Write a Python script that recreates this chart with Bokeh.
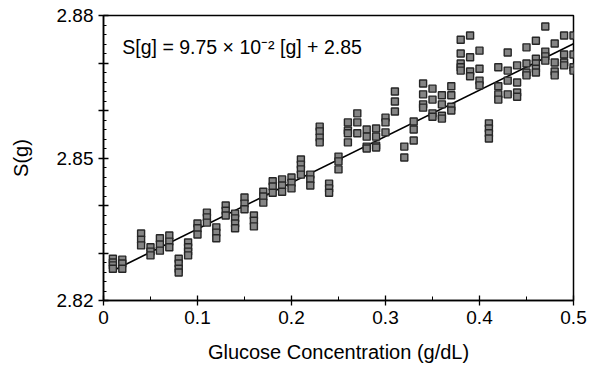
from bokeh.plotting import figure
from bokeh.models import Range1d, FixedTicker, Label, ColumnDataSource
from bokeh.embed import file_html
from bokeh.resources import INLINE

# ---- data ----
conc_levels = [0.01, 0.02, 0.04, 0.05, 0.06, 0.07, 0.08, 0.09, 0.10, 0.11,
               0.12, 0.13, 0.14, 0.15, 0.16, 0.17, 0.18, 0.19, 0.20, 0.21,
               0.22, 0.23, 0.24, 0.25, 0.26, 0.27, 0.28, 0.29, 0.30, 0.31,
               0.32, 0.33, 0.34, 0.35, 0.36, 0.37, 0.38, 0.39, 0.40, 0.41,
               0.42, 0.43, 0.44, 0.45, 0.46, 0.47, 0.48, 0.49, 0.50]

replicates = [
    [2.8288, 2.8280, 2.8274, 2.8267],
    [2.8286, 2.8278, 2.8267],
    [2.8341, 2.8328, 2.8316],
    [2.8312, 2.8303, 2.8295],
    [2.8331, 2.8318, 2.8305],
    [2.8337, 2.8324, 2.8312],
    [2.8288, 2.8278, 2.8267, 2.8259],
    [2.8322, 2.8312, 2.8303, 2.8295],
    [2.8362, 2.8352, 2.8339],
    [2.8385, 2.8375, 2.8364],
    [2.8354, 2.8343, 2.8331],
    [2.8400, 2.8389, 2.8379],
    [2.8383, 2.8373, 2.8362, 2.8352],
    [2.8417, 2.8404, 2.8392],
    [2.8379, 2.8368, 2.8356],
    [2.8429, 2.8419, 2.8406],
    [2.8451, 2.8440, 2.8427],
    [2.8455, 2.8442, 2.8429],
    [2.8459, 2.8448, 2.8436],
    [2.8497, 2.8486, 2.8476, 2.8465],
    [2.8465, 2.8455, 2.8442],
    [2.8566, 2.8556, 2.8543, 2.8533],
    [2.8446, 2.8436, 2.8427],
    [2.8503, 2.8493, 2.8476],
    [2.8575, 2.8558, 2.8552, 2.8533],
    [2.8594, 2.8575, 2.8552],
    [2.8560, 2.8545, 2.8524, 2.8520],
    [2.8562, 2.8545, 2.8526, 2.8522],
    [2.8585, 2.8575, 2.8554],
    [2.8640, 2.8619, 2.8598],
    [2.8524, 2.8501],
    [2.8577, 2.8560, 2.8537],
    [2.8657, 2.8634, 2.8613, 2.8606],
    [2.8646, 2.8623, 2.8594, 2.8587],
    [2.8632, 2.8613, 2.8589, 2.8583],
    [2.8651, 2.8632, 2.8608, 2.8600],
    [2.8749, 2.8720, 2.8699, 2.8691, 2.8684],
    [2.8758, 2.8712, 2.8682, 2.8672],
    [2.8726, 2.8688, 2.8663, 2.8653],
    [2.8573, 2.8562, 2.8552, 2.8541],
    [2.8691, 2.8651, 2.8634, 2.8623],
    [2.8722, 2.8684, 2.8663, 2.8634],
    [2.8695, 2.8659, 2.8638, 2.8629],
    [2.8733, 2.8699, 2.8680, 2.8674],
    [2.8747, 2.8709, 2.8699, 2.8688, 2.8680],
    [2.8777, 2.8724, 2.8714, 2.8705],
    [2.8741, 2.8701, 2.8682, 2.8674],
    [2.8758, 2.8718, 2.8701, 2.8695],
    [2.8758, 2.8718, 2.8691, 2.8684],
]

fit_slope = 0.0975
fit_intercept = 2.8253
fit_x = [0.01, 0.50]

x_ticks = [0, 0.1, 0.2, 0.3, 0.4, 0.5]
x_minor = [0.05, 0.15, 0.25, 0.35, 0.45]
y_ticks = [2.82, 2.83, 2.84, 2.85, 2.86, 2.87, 2.88]
y_labelled = [2.82, 2.85, 2.88]
y_minor = [round(2.82 + 0.002 * i, 3) for i in range(31)]

equation_text = "S[g] = 9.75 \u00d7 10\u207b\u00b2 [g] + 2.85"
x_title = "Glucose Concentration (g/dL)"
y_title = "S(g)"

# ---- build ----
xs, ys = [], []
for c, reps in zip(conc_levels, replicates):
    for r in reps:
        xs.append(c)
        ys.append(r)
src = ColumnDataSource(dict(x=xs, y=ys))
fit_src = ColumnDataSource(dict(x=fit_x, y=[fit_slope * v + fit_intercept for v in fit_x]))

FONT = "Liberation Sans"

p = figure(width=589, height=366, x_range=Range1d(0, 0.5), y_range=Range1d(2.82, 2.88),
           output_backend="svg", toolbar_location=None,
           min_border_left=103, min_border_right=16, min_border_top=15, min_border_bottom=66)
p.grid.visible = False
p.outline_line_color = "black"
p.outline_line_width = 1.5
p.background_fill_color = "white"
p.border_fill_color = "white"

p.line("x", "y", source=fit_src, line_color="black", line_width=1.6)
p.scatter("x", "y", source=src, marker="square", size=7, fill_color="#858585",
          line_color="#262626", line_width=1.4)

xa = p.xaxis[0]
xa.ticker = FixedTicker(ticks=x_ticks, minor_ticks=x_minor)
xa.major_label_overrides = {0: "0"}
ya = p.yaxis[0]
ya.ticker = FixedTicker(ticks=y_ticks, minor_ticks=y_minor)
ya.major_label_overrides = {t: "" for t in y_ticks if t not in y_labelled}

for ax in (xa, ya):
    ax.axis_line_color = "black"
    ax.axis_line_width = 1.5
    ax.major_tick_line_color = "black"
    ax.major_tick_line_width = 1.3
    ax.minor_tick_line_color = "black"
    ax.minor_tick_line_width = 1
    ax.major_tick_in = 5
    ax.major_tick_out = 5
    ax.minor_tick_in = 4
    ax.minor_tick_out = 0
    ax.major_label_text_font = FONT
    ax.major_label_text_font_size = "19px"
    ax.major_label_text_color = "black"
    ax.axis_label_text_font = FONT
    ax.axis_label_text_font_size = "20px"
    ax.axis_label_text_font_style = "normal"
    ax.axis_label_text_color = "black"
    ax.major_label_standoff = 5

xa.axis_label = x_title
xa.axis_label_standoff = 14
ya.axis_label = y_title
ya.axis_label_standoff = 22
ya.minor_tick_in = 3

p.add_layout(Label(x=0.02, y=2.8733, text=equation_text, text_font=FONT,
                   text_font_size="19.5px", text_color="black",
                   text_baseline="alphabetic"))

open("out.html", "w").write(file_html(p, INLINE))
